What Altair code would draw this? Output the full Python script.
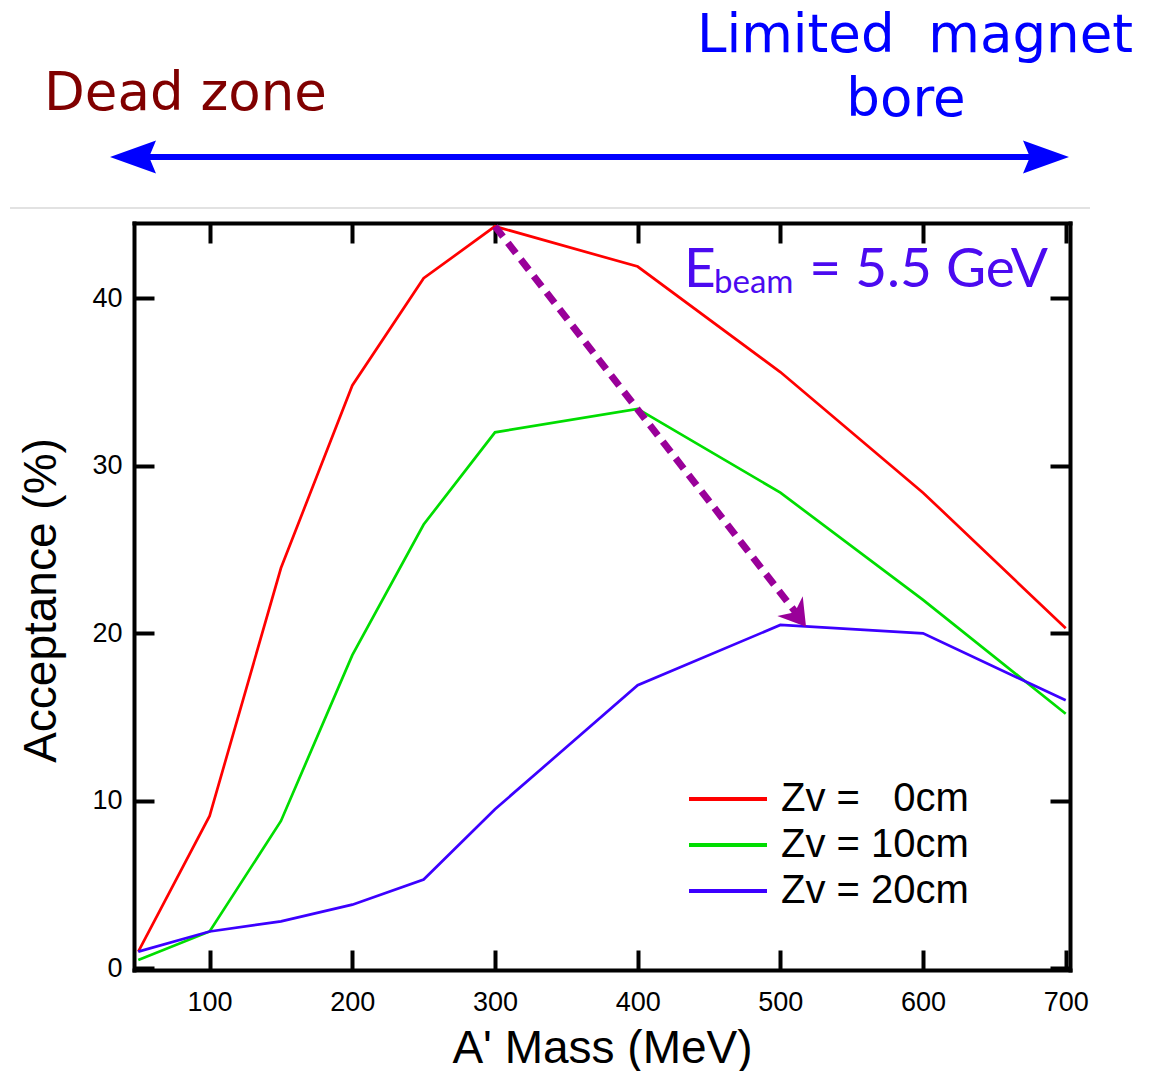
import altair as alt
import pandas as pd

# ---------------- data ----------------
masses = [50, 100, 150, 200, 250, 300, 400, 500, 600, 700]
acc_zv0 = [1.0, 9.1, 23.9, 34.8, 41.2, 44.3, 41.9, 35.6, 28.4, 20.3]
acc_zv10 = [0.5, 2.2, 8.8, 18.7, 26.5, 32.0, 33.4, 28.4, 22.0, 15.2]
acc_zv20 = [1.0, 2.2, 2.8, 3.8, 5.3, 9.5, 16.9, 20.5, 20.0, 16.0]

series_labels = ["Zv = \u00a0\u00a00cm", "Zv = 10cm", "Zv = 20cm"]
series_colors = ["#ff0000", "#00dd00", "#3c00ff"]

x_ticks = [100, 200, 300, 400, 500, 600, 700]
y_ticks = [0, 10, 20, 30, 40]

# purple trend arrow (from Zv=0 peak to Zv=20 peak)
trend_mass = [300, 514]
trend_acc = [44.3, 20.9]
trend_tip_mass = [518]
trend_tip_acc = [20.4]

rows = []
for lab, vals in zip(series_labels, [acc_zv0, acc_zv10, acc_zv20]):
    for m, v in zip(masses, vals):
        rows.append({"mass": m, "acc": v, "series": lab})
df = pd.DataFrame(rows)

W, H = 936, 747
FONT = "Liberation Sans"

x_scale = alt.Scale(domain=[47, 703], nice=False, zero=False)
y_scale = alt.Scale(domain=[-0.1, 44.5], nice=False, zero=False)


def inward(orient, offset, values):
    return alt.Axis(orient=orient, offset=offset, values=values, labels=False,
                    ticks=True, tickSize=20, tickWidth=4, tickColor="black",
                    domain=True, domainColor="black", domainWidth=4,
                    domainCap="square", grid=False, title=None)


x_label_axis = alt.Axis(orient="bottom", values=x_ticks, ticks=False, domain=False,
                        grid=False, labelFont=FONT, labelFontSize=27, labelColor="black",
                        labelPadding=19, labelFlush=False,
                        title="A' Mass (MeV)", titleFont=FONT, titleFontSize=46,
                        titleFontWeight="normal", titleColor="black",
                        titleX=468, titleY=92, titleAlign="center",
                        titleBaseline="alphabetic")
y_label_axis = alt.Axis(orient="left", values=y_ticks, ticks=False, domain=False,
                        grid=False, labelFont=FONT, labelFontSize=27, labelColor="black",
                        labelPadding=12, labelFlush=False,
                        title="Acceptance (%)", titleFont=FONT, titleFontSize=46,
                        titleFontWeight="normal", titleColor="black",
                        titleX=-79, titleY=377, titleAngle=270, titleAlign="center",
                        titleBaseline="alphabetic")

lines = alt.Chart(df).mark_line(strokeWidth=2.7).encode(
    x=alt.X("mass:Q", scale=x_scale, axis=x_label_axis),
    y=alt.Y("acc:Q", scale=y_scale, axis=y_label_axis),
    color=alt.Color("series:N",
                    scale=alt.Scale(domain=series_labels, range=series_colors),
                    legend=alt.Legend(orient="none", legendX=553, legendY=556,
                                      title=None, labelFont=FONT, labelFontSize=40,
                                      labelColor="black", symbolType="stroke",
                                      symbolSize=6084, symbolStrokeWidth=4,
                                      labelOffset=12, clipHeight=40, rowPadding=6,
                                      padding=0, labelLimit=0)),
    order="mass:Q",
)

trend_df = pd.DataFrame({"mass": trend_mass, "acc": trend_acc})
trend = alt.Chart(trend_df).mark_line(color="#990099", strokeWidth=7,
                                      strokeDash=[13, 8]).encode(
    x=alt.X("mass:Q", scale=x_scale, axis=inward("top", -H, x_ticks)),
    y=alt.Y("acc:Q", scale=y_scale, axis=inward("right", -W, y_ticks)),
)

tip_df = pd.DataFrame({"mass": trend_tip_mass, "acc": trend_tip_acc})
trend_head = alt.Chart(tip_df).mark_point(
    shape="M0,0 L-1,-0.62 L-0.7,0 L-1,0.62 Z", filled=True, opacity=1,
    color="#990099", size=2704, angle=52).encode(
    x=alt.X("mass:Q", scale=x_scale, axis=inward("bottom", -H, x_ticks)),
    y=alt.Y("acc:Q", scale=y_scale, axis=inward("left", -W, y_ticks)),
)

# ---------------- annotations ----------------
one = pd.DataFrame({"k": [0]})


def label(text, x, y, size, color, font, align="left"):
    return alt.Chart(one).mark_text(text=text, font=font, fontSize=size, color=color,
                                    align=align, baseline="alphabetic").encode(
        x=alt.value(x), y=alt.value(y))


dead = label("Dead zone", -90, -113, 53, "#800000", "DejaVu Sans")
lim1 = label("Limited\u00a0 magnet", 781, -171, 53, "#0000ff", "DejaVu Sans", "center")
lim2 = label("bore", 772, -107, 53, "#0000ff", "DejaVu Sans", "center")

ebeam_color = "#4b0af0"
e1 = label("E", 550, 64, 55, ebeam_color, "Lato")
e2 = label("beam", 580, 70, 33, ebeam_color, "Lato")
e3 = label("= 5.5 GeV", 914, 64, 55, ebeam_color, "Lato", "right")

sep = alt.Chart(one).mark_rule(color="#d9d9d9", strokeWidth=1.5).encode(
    x=alt.value(-124), x2=alt.value(956), y=alt.value(-15))
shaft = alt.Chart(one).mark_rule(color="#0000ff", strokeWidth=6).encode(
    x=alt.value(-10), x2=alt.value(920), y=alt.value(-66))
head_path = "M0,0 L-1,-0.36 L-0.85,0 L-1,0.36 Z"
head_r = alt.Chart(one).mark_point(shape=head_path, filled=True, opacity=1,
                                   color="#0000ff", size=8464, angle=0).encode(
    x=alt.value(935), y=alt.value(-66))
head_l = alt.Chart(one).mark_point(shape=head_path, filled=True, opacity=1,
                                   color="#0000ff", size=8464, angle=180).encode(
    x=alt.value(-24), y=alt.value(-66))

chart = alt.layer(
    lines, trend, trend_head,
    dead, lim1, lim2, e1, e2, e3, sep, shaft, head_r, head_l,
).resolve_axis(x="independent", y="independent").properties(
    width=W, height=H,
    autosize=alt.AutoSizeParams(type="none"),
    padding={"left": 126, "top": 215, "right": 73, "bottom": 110},
).configure_view(stroke=None).configure(background="white")

chart.save("out.html", embed_options={"renderer": "svg", "actions": False})
